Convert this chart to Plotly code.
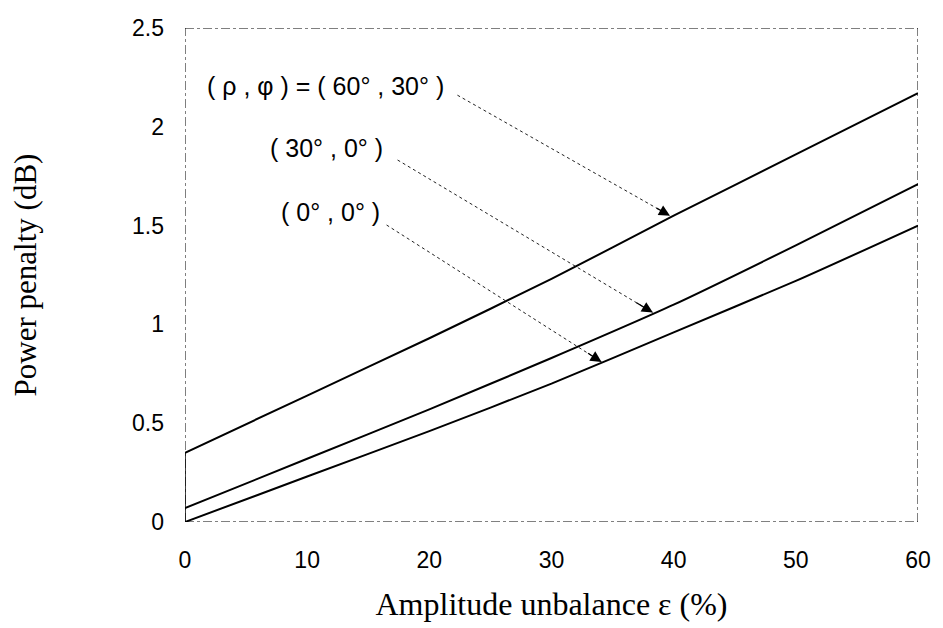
import plotly.graph_objects as go

# Data
eps = [0, 10, 20, 30, 40, 50, 60]
pp_60_30 = [0.35, 0.64, 0.93, 1.23, 1.55, 1.86, 2.17]
pp_30_0 = [0.07, 0.32, 0.57, 0.83, 1.10, 1.40, 1.71]
pp_0_0 = [0.00, 0.23, 0.46, 0.70, 0.96, 1.22, 1.50]

x_ticks = [0, 10, 20, 30, 40, 50, 60]
y_ticks = [0, 0.5, 1, 1.5, 2, 2.5]
y_ticklabels = ["0", "0.5", "1", "1.5", "2", "2.5"]

labels = ["( ρ , φ ) = ( 60° , 30° )", "( 30° , 0° )", "( 0° , 0° )"]
label_pos = [(11.5, 2.206), (11.6, 1.893), (11.9, 1.569)]
arrow_tail = [(22.3, 2.16), (17.4, 1.832), (16.5, 1.503)]
arrow_head = [(39.7, 1.55), (38.3, 1.06), (34.1, 0.81)]

fig = go.Figure()
for ys in (pp_60_30, pp_30_0, pp_0_0):
    fig.add_trace(go.Scatter(x=eps, y=ys, mode="lines",
                             line=dict(color="black", width=2, shape="spline", smoothing=0.6),
                             showlegend=False, hoverinfo="skip"))

shapes = []
# dashed frame (scanned look)
for (x0, y0, x1, y1) in [(0, 0, 60, 0), (0, 2.5, 60, 2.5), (0, 0, 0, 2.5), (60, 0, 60, 2.5)]:
    shapes.append(dict(type="line", xref="x", yref="y", x0=x0, y0=y0, x1=x1, y1=y1,
                       line=dict(color="black", width=1, dash="dashdot")))
shapes.append(dict(type="line", xref="x", yref="y", x0=0, y0=0, x1=0, y1=pp_60_30[0],
                   line=dict(color="black", width=1.5)))
for (tx, ty), (hx, hy) in zip(arrow_tail, arrow_head):
    shapes.append(dict(type="line", xref="x", yref="y", x0=tx, y0=ty, x1=hx, y1=hy,
                       line=dict(color="#222", width=1, dash="dot")))

annotations = []
for txt, (lx, ly) in zip(labels, label_pos):
    annotations.append(dict(x=lx, y=ly, xref="x", yref="y", text=txt, showarrow=False,
                            font=dict(family="Liberation Sans, Arial", size=25, color="black")))
for (tx, ty), (hx, hy) in zip(arrow_tail, arrow_head):
    f = 0.07
    annotations.append(dict(x=hx, y=hy, xref="x", yref="y", axref="x", ayref="y",
                            ax=hx - f * (hx - tx), ay=hy - f * (hy - ty), text="",
                            showarrow=True, arrowhead=2, arrowsize=1.7, arrowwidth=1.3,
                            arrowcolor="black"))

fig.update_layout(
    width=943, height=628,
    margin=dict(l=185, r=22, t=28, b=106),
    paper_bgcolor="white", plot_bgcolor="white",
    shapes=shapes, annotations=annotations,
    xaxis=dict(range=[0, 60], tickvals=x_ticks, ticktext=[str(v) for v in x_ticks],
               showgrid=False, zeroline=False, showline=False, ticks="",
               ticklabelstandoff=22,
               tickfont=dict(family="Liberation Sans, Arial", size=23, color="black"),
               title=dict(text="Amplitude unbalance ε (%)", standoff=20,
                          font=dict(family="Liberation Serif, Times New Roman", size=32, color="black"))),
    yaxis=dict(range=[0, 2.5], tickvals=y_ticks, ticktext=y_ticklabels,
               showgrid=False, zeroline=False, showline=False, ticks="",
               ticklabelstandoff=20,
               tickfont=dict(family="Liberation Sans, Arial", size=23, color="black"),
               title=dict(text="Power penalty (dB)", standoff=86,
                          font=dict(family="Liberation Serif, Times New Roman", size=31, color="black"))),
)
fig.write_html("out.html")
